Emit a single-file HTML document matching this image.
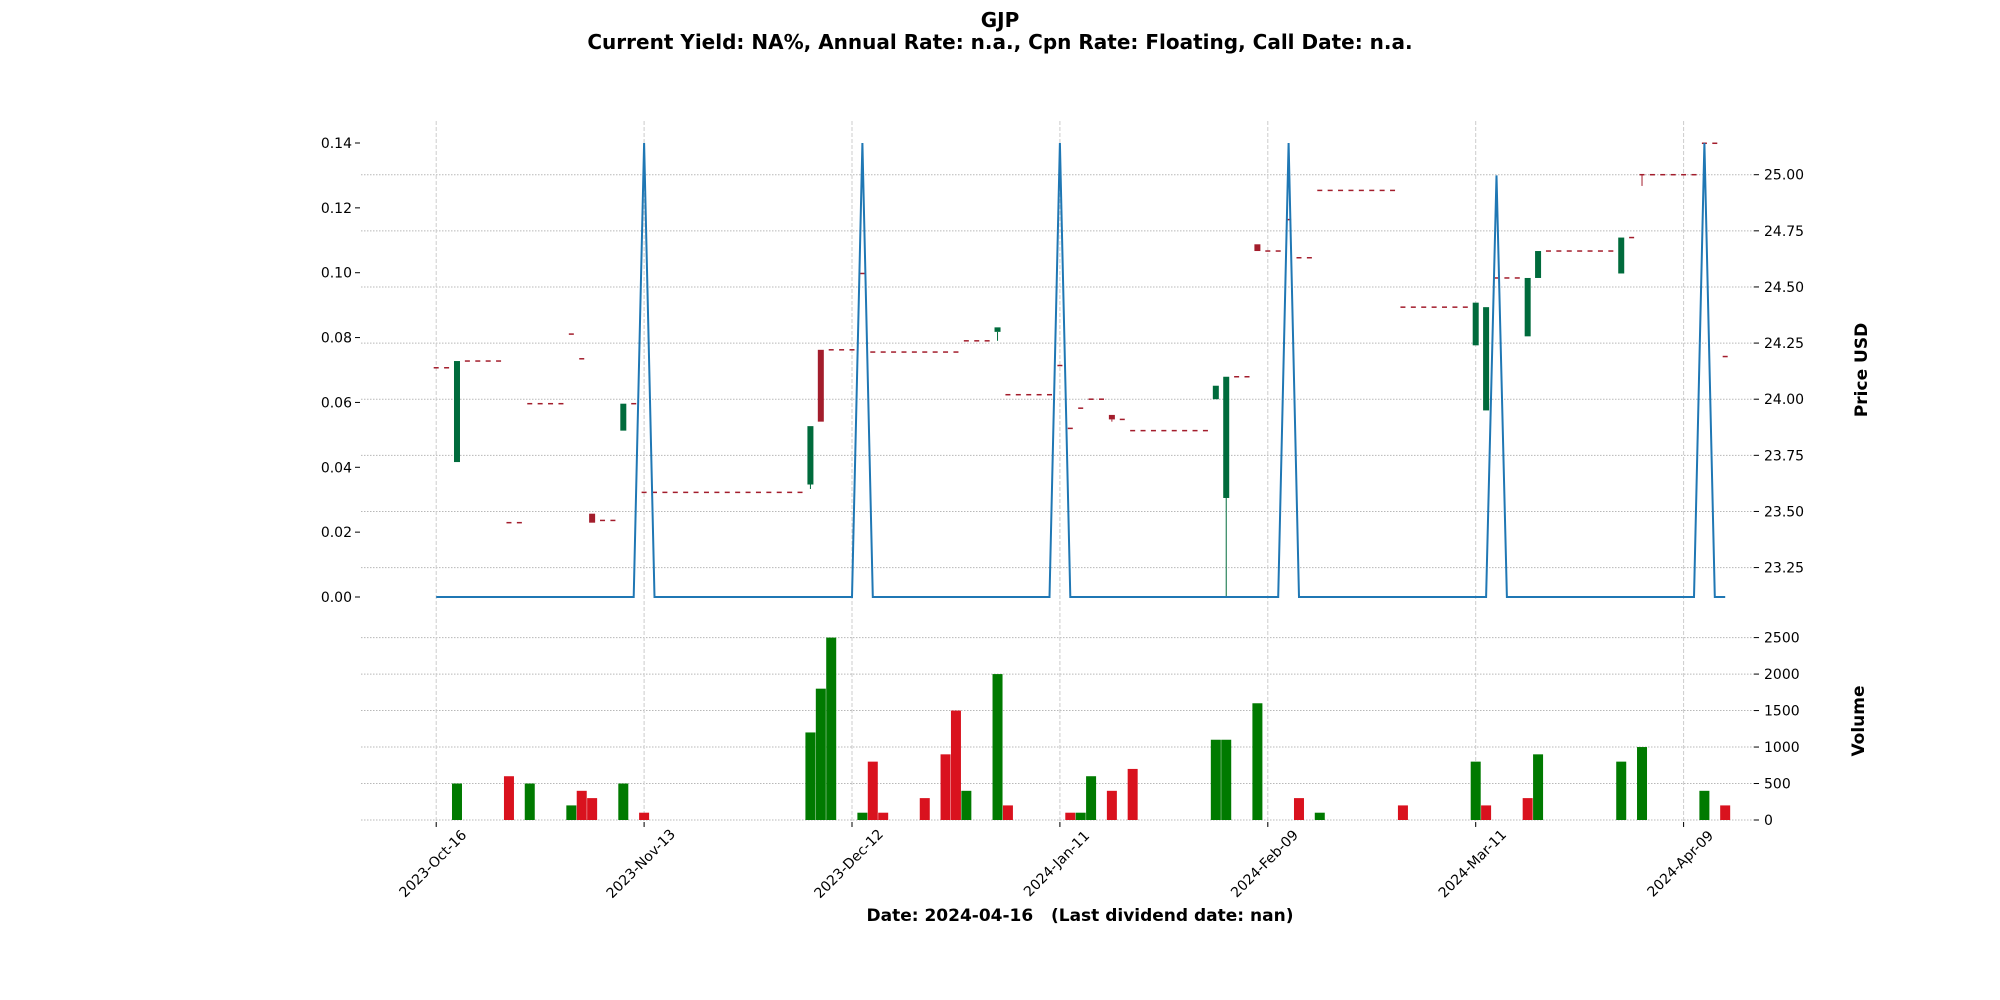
<!DOCTYPE html>
<html><head><meta charset="utf-8">
<style>
html,body{margin:0;padding:0;background:#fff;}
svg{display:block;font-family:"DejaVu Sans","Liberation Sans",sans-serif;}
</style></head>
<body>
<svg id="chart" width="2000" height="1000" viewBox="0 0 2000 1000" xmlns="http://www.w3.org/2000/svg">
<text x="1000" y="27" text-anchor="middle" font-size="20" font-weight="bold">GJP</text>
<text x="1000" y="49" text-anchor="middle" font-size="20" font-weight="bold">Current Yield: NA%, Annual Rate: n.a., Cpn Rate: Floating, Call Date: n.a.</text>
<g id="grid"></g>
<g id="marks"></g>
<g id="axes"></g>
<text x="1080" y="921" text-anchor="middle" font-size="17" font-weight="bold" style="white-space:pre" xml:space="preserve">Date: 2024-04-16   (Last dividend date: nan)</text>
<text transform="translate(1867,370) rotate(-90)" text-anchor="middle" font-size="17" font-weight="bold">Price USD</text>
<text transform="translate(1864,721) rotate(-90)" text-anchor="middle" font-size="17" font-weight="bold">Volume</text>
</svg>
<script>
const opens = [24.14,24.14,23.72,24.17,24.17,24.17,24.17,23.45,23.45,23.98,23.98,23.98,23.98,24.29,24.18,23.49,23.46,23.46,23.86,23.98,
23.585,23.585,23.585,23.585,23.585,23.585,23.585,23.585,23.585,23.585,23.585,23.585,23.585,23.585,23.585,23.585,23.62,24.22,24.22,24.22,
24.22,24.56,24.21,24.21,24.21,24.21,24.21,24.21,24.21,24.21,24.21,24.26,24.26,24.26,24.30,24.02,24.02,24.02,24.02,24.02,
24.15,23.87,23.96,24.00,24.00,23.93,23.91,23.86,23.86,23.86,23.86,23.86,23.86,23.86,23.86,24.00,23.56,24.10,24.10,24.69,
24.66,24.66,24.80,24.63,24.63,24.93,24.93,24.93,24.93,24.93,24.93,24.93,24.93,24.41,24.41,24.41,24.41,24.41,24.41,24.41,
24.24,23.95,24.54,24.54,24.54,24.28,24.54,24.66,24.66,24.66,24.66,24.66,24.66,24.66,24.56,24.72,25.00,25.00,25.00,25.00,
25.00,25.00,25.14,25.14,24.19];
const closes = [24.14,24.14,24.17,24.17,24.17,24.17,24.17,23.45,23.45,23.98,23.98,23.98,23.98,24.29,24.18,23.45,23.46,23.46,23.98,23.98,
23.585,23.585,23.585,23.585,23.585,23.585,23.585,23.585,23.585,23.585,23.585,23.585,23.585,23.585,23.585,23.585,23.88,23.90,24.22,24.22,
24.22,24.56,24.21,24.21,24.21,24.21,24.21,24.21,24.21,24.21,24.21,24.26,24.26,24.26,24.32,24.02,24.02,24.02,24.02,24.02,
24.15,23.87,23.96,24.00,24.00,23.91,23.91,23.86,23.86,23.86,23.86,23.86,23.86,23.86,23.86,24.06,24.10,24.10,24.10,24.66,
24.66,24.66,24.80,24.63,24.63,24.93,24.93,24.93,24.93,24.93,24.93,24.93,24.93,24.41,24.41,24.41,24.41,24.41,24.41,24.41,
24.43,24.41,24.54,24.54,24.54,24.54,24.66,24.66,24.66,24.66,24.66,24.66,24.66,24.66,24.72,24.72,25.00,25.00,25.00,25.00,
25.00,25.00,25.14,25.14,24.19];
const lowIdx = [36,54,65,76,116];
const lowVals = [23.60,24.26,23.90,23.12,24.95];
const volumes = [0,0,500,0,0,0,0,600,0,500,0,0,0,200,400,300,0,0,500,0,
100,0,0,0,0,0,0,0,0,0,0,0,0,0,0,0,1200,1800,2500,0,
0,100,800,100,0,0,0,300,0,900,1500,400,0,0,2000,200,0,0,0,0,
0,100,100,600,0,400,0,700,0,0,0,0,0,0,0,1100,1100,0,0,1600,
0,0,0,300,0,100,0,0,0,0,0,0,0,200,0,0,0,0,0,0,
800,200,0,0,0,300,900,0,0,0,0,0,0,0,800,0,1000,0,0,0,
0,0,400,0,200];
const volUp = [0,0,1,0,0,0,0,0,0,1,0,0,0,1,0,0,0,0,1,0,
0,0,0,0,0,0,0,0,0,0,0,0,0,0,0,0,1,1,1,0,
0,1,0,0,0,0,0,0,0,0,0,1,0,0,1,0,0,0,0,0,
0,0,1,1,0,0,0,0,0,0,0,0,0,0,0,1,1,0,0,1,
0,0,0,0,0,1,0,0,0,0,0,0,0,0,0,0,0,0,0,0,
1,0,0,0,0,0,1,0,0,0,0,0,0,0,1,0,1,0,0,0,
0,0,1,0,0];
const yields = [0,0,0,0,0,0,0,0,0,0,0,0,0,0,0,0,0,0,0,0,
0.14,0,0,0,0,0,0,0,0,0,0,0,0,0,0,0,0,0,0,0,
0,0.14,0,0,0,0,0,0,0,0,0,0,0,0,0,0,0,0,0,0,
0.14,0,0,0,0,0,0,0,0,0,0,0,0,0,0,0,0,0,0,0,
0,0,0.14,0,0,0,0,0,0,0,0,0,0,0,0,0,0,0,0,0,
0,0,0.13,0,0,0,0,0,0,0,0,0,0,0,0,0,0,0,0,0,
0,0,0.14,0,0];
const dateLabels = ["2023-Oct-16","2023-Nov-13","2023-Dec-12","2024-Jan-11","2024-Feb-09","2024-Mar-11","2024-Apr-09"];
const dateIdx = [0,20,40,60,80,100,120];
const priceTicks = [23.25,23.50,23.75,24.00,24.25,24.50,24.75,25.00];
const yieldTicks = [0,0.02,0.04,0.06,0.08,0.10,0.12,0.14];
const volTicks = [0,500,1000,1500,2000,2500];

const NS = "http://www.w3.org/2000/svg";
const X = i => 436.2 + 10.395 * i;
const YP = p => 174.7 + (25 - p) * 224.5;
const YY = v => 597 - v / 0.14 * 454;
const YV = v => 820 - v / 2500 * 182.4;
const L = 361, R = 1754;
function mk(tag, attrs, parent) {
  const e = document.createElementNS(NS, tag);
  for (const k in attrs) e.setAttribute(k, attrs[k]);
  parent.appendChild(e);
  return e;
}
const grid = document.getElementById('grid');
const marks = document.getElementById('marks');
const axes = document.getElementById('axes');

priceTicks.forEach(p => {
  const y = YP(p);
  const g = mk('line', {x1:L, x2:R, y1:y, y2:y, stroke:'#b8b8b8', 'stroke-width':1, 'stroke-dasharray':'1.5,1.5'}, grid);
  
  
  const t = mk('text', {x:1764, y:y+5, 'font-size':14}, axes);
  t.textContent = p.toFixed(2);
  
  
  mk('line', {x1:R, x2:R+5, y1:y, y2:y, stroke:'#000', 'stroke-width':1}, axes);
});
yieldTicks.forEach(v => {
  const y = YY(v);
  const t = mk('text', {x:352, y:y+5, 'font-size':14, 'text-anchor':'end'}, axes);
  t.textContent = v.toFixed(2);
  
  
  mk('line', {x1:355, x2:360, y1:y, y2:y, stroke:'#000', 'stroke-width':1}, axes);
});
volTicks.forEach(v => {
  const y = YV(v);
  const g = mk('line', {x1:L, x2:R, y1:y, y2:y, stroke:'#b8b8b8', 'stroke-width':1, 'stroke-dasharray':'1.5,1.5'}, grid);
  
  
  const t = mk('text', {x:1764, y:y+5, 'font-size':14}, axes);
  t.textContent = String(v);
  
  
  mk('line', {x1:R, x2:R+5, y1:y, y2:y, stroke:'#000', 'stroke-width':1}, axes);
});
dateIdx.forEach((di, k) => {
  const x = X(di);
  const g = mk('line', {x1:x, x2:x, y1:121, y2:826, stroke:'#cccccc', 'stroke-width':1, 'stroke-dasharray':'4,2'}, grid);
  
  
  mk('line', {x1:x, x2:x, y1:822, y2:827, stroke:'#000', 'stroke-width':1}, axes);
  const t = mk('text', {x:0, y:0, 'font-size':14, 'text-anchor':'middle', transform:`translate(${x},867) rotate(-45)`}, axes);
  t.textContent = dateLabels[k];
  
  
});

volumes.forEach((v, i) => {
  if (!v) return;
  const y = YV(v);
  const b = mk('rect', {x:X(i)-5, y:y, width:10, height:YV(0)-y, fill: volUp[i] ? '#007a00' : '#d9121e'}, marks);
  
  
});

opens.forEach((o, i) => {
  const c = closes[i];
  const x = X(i);
  const li = lowIdx.indexOf(i);
  const lo = li >= 0 ? lowVals[li] : Math.min(o, c);
  const up = c > o;
  const col = up ? '#006b3c' : '#a31d2c';
  if (lo < Math.min(o, c)) {
    const w = mk('line', {x1:x, x2:x, y1:YP(Math.min(o,c)), y2:YP(lo), stroke:col, 'stroke-width':1}, marks);
    
    
  }
  if (Math.abs(c - o) < 0.005) {
    const d = mk('line', {x1:x-2.5, x2:x+2.5, y1:YP(c), y2:YP(c), stroke:'#a31d2c', 'stroke-width':1.5}, marks);
    
    
  } else {
    const top = YP(Math.max(o, c)), bot = YP(Math.min(o, c));
    const r = mk('rect', {x:x-3, y:top, width:6, height:bot-top, fill:col}, marks);
    
    
  }
});

const pts = yields.map((v, i) => X(i).toFixed(1) + ',' + YY(v).toFixed(1)).join(' ');
const yl = mk('polyline', {points:pts, fill:'none', stroke:'#1f77b4', 'stroke-width':2}, marks);


</script>
</body></html>
